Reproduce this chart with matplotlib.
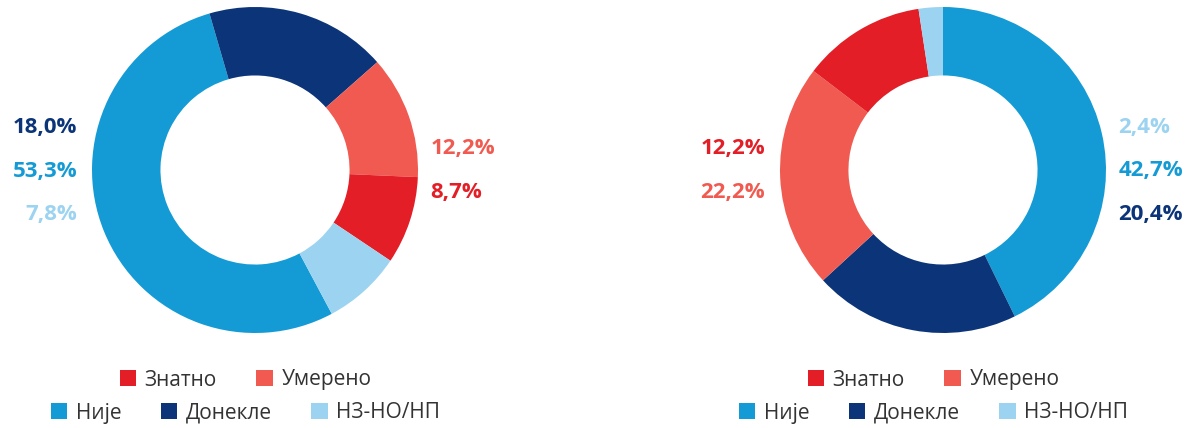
import matplotlib.pyplot as plt
from matplotlib.patches import Patch

plt.rcParams['font.family'] = ['Open Sans', 'DejaVu Sans']

categories = ['Знатно', 'Умерено', 'Није', 'Донекле', 'НЗ-НО/НП']
colors = {'Знатно': '#E31E26', 'Умерено': '#F15A50', 'Није': '#149BD5',
          'Донекле': '#0B3479', 'НЗ-НО/НП': '#9CD3F0'}

# clockwise slice order for both rings
ring_order = ['Није', 'Донекле', 'Умерено', 'Знатно', 'НЗ-НО/НП']
left_values = {'Знатно': 8.7, 'Умерено': 12.2, 'Није': 53.3, 'Донекле': 18.0, 'НЗ-НО/НП': 7.8}
right_values = {'Знатно': 12.2, 'Умерено': 22.2, 'Није': 42.7, 'Донекле': 20.4, 'НЗ-НО/НП': 2.4}

# label placement: (category, side, y)
left_labels = [('Донекле', 'L', 0.258), ('Није', 'L', -0.012), ('НЗ-НО/НП', 'L', -0.27),
               ('Умерено', 'R', 0.129), ('Знатно', 'R', -0.135)]
right_labels = [('Знатно', 'L', 0.129), ('Умерено', 'L', -0.141),
                ('НЗ-НО/НП', 'R', 0.258), ('Није', 'R', -0.006), ('Донекле', 'R', -0.27)]

W, H = 1194, 428
fig = plt.figure(figsize=(W / 100, H / 100), dpi=100)
R = 163


def donut(cx, cy, values, start, labels):
    ax = fig.add_axes([(cx - R) / W, (H - cy - R) / H, 2 * R / W, 2 * R / H])
    vals = [values[c] for c in ring_order]
    ax.pie(vals, colors=[colors[c] for c in ring_order], startangle=start,
           counterclock=False, radius=1.0,
           wedgeprops=dict(width=0.42, edgecolor='none'))
    ax.set_xlim(-1, 1)
    ax.set_ylim(-1, 1)
    ax.set_aspect('equal')
    ax.axis('off')
    for cat, side, y in labels:
        txt = f'{values[cat]:.1f}%'.replace('.', ',')
        x = -1.092 if side == 'L' else 1.075
        ax.text(x, y, txt, ha='right' if side == 'L' else 'left', va='center',
                fontsize=16, fontweight='bold', color=colors[cat], clip_on=False)

    # two-row legend under the ring
    row1 = ['Знатно', 'Умерено']
    row2 = ['Није', 'Донекле', 'НЗ-НО/НП']
    for row, ypx, n in [(row1, 380, 2), (row2, 413, 3)]:
        handles = [Patch(facecolor=colors[c], edgecolor='none', label=c) for c in row]
        leg = fig.legend(handles=handles, loc='center', ncol=n,
                         bbox_to_anchor=(cx / W - 0.008, 1 - ypx / H), frameon=False,
                         fontsize=15, handlelength=0.8, handleheight=0.8,
                         handletextpad=0.4, columnspacing=1.9, borderpad=0)
        for t in leg.get_texts():
            t.set_color('#333333')


donut(255, 170, left_values, 90 - 151.9, left_labels)
donut(943, 170, right_values, 90, right_labels)

fig.savefig('out.png', dpi=100)
